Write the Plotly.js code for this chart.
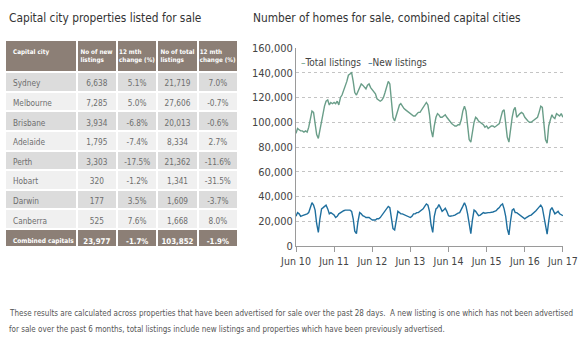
<!DOCTYPE html>
<html><head><meta charset="utf-8">
<script src="https://cdn.plot.ly/plotly-3.0.1.min.js"></script>
<style>html,body{margin:0;padding:0;background:#fff;}#chart{width:580px;height:352px;}</style>
</head><body><div id="chart"></div>
<script>
// ---------- Table data ----------
const tableTitle = 'Capital city properties listed for sale';
const tableHeaders = ['Capital city', 'No of new<br>listings', '12 mth<br>change (%)', 'No of total<br>listings', '12 mth<br>change (%)'];
const cities = ['Sydney', 'Melbourne', 'Brisbane', 'Adelaide', 'Perth', 'Hobart', 'Darwin', 'Canberra', 'Combined capitals'];
const newListings = ['6,638', '7,285', '3,934', '1,795', '3,303', '320', '177', '525', '23,977'];
const newChange = ['5.1%', '5.0%', '-6.8%', '-7.4%', '-17.5%', '-1.2%', '3.5%', '7.6%', '-1.7%'];
const totalListingsTbl = ['21,719', '27,606', '20,013', '8,334', '21,362', '1,341', '1,609', '1,668', '103,852'];
const totalChange = ['7.0%', '-0.7%', '-0.6%', '2.7%', '-11.6%', '-31.5%', '-3.7%', '8.0%', '-1.9%'];

// ---------- Chart data (half-monthly, thousands, Jun 2010 - Jun 2017) ----------
const chartTitle = 'Number of homes for sale, combined capital cities';
const seriesNames = ['Total listings', 'New listings'];
const startYear = 2010, startMonth = 6; // first observation: 1 Jun 2010
const totalK = [
  91,95,94,93,93,92,93,92,96,103,109,108,100,90,87,94,101,108,113,117,118,114,116,115,
  116,115,117,114,120,122,126,128,133,138,139,140,133,124,122,125,128,131,130,128,127,130,131,128,
  126,124,123,119,118,117,118,120,124,128,133,131,115,104,101,106,110,114,115,113,111,110,109,108,
  107,106,105,105,107,108,108,110,112,115,116,114,106,94,88,97,104,107,106,104,104,105,106,104,
  102,100,99,98,97,97,98,98,102,109,113,109,96,86,84,94,100,104,103,101,100,99,98,96,
  97,95,96,97,97,96,97,98,99,104,109,110,100,88,84,96,104,110,112,104,106,107,108,107,
  104,102,101,100,100,101,102,103,104,108,113,112,98,86,83,97,102,106,104,103,107,106,105,107,
  104
];
const newK = [
  24,27,26,24,24.5,25,25,26,27,31,35,33,29,18,11,22,30,31,32,33,30,26,27,26,
  25,23,24,26,27,28,28.5,29,29,29,29,28,22,12,10,20,27,26,24.5,24,23,23,23,22,
  21,21,21,22,22,23,25,26,28,30,32,31,24,14,13,22,28,27,26,26,25.5,25,24,24,
  23,24,26,26,27,27,28,29,30,32,34,33,28,17,11,24,30,31,33.5,31,28,29,30.5,28,
  24.5,24,24,24.5,25,26,26.5,27,29,32,35,32,26,16,10,21,29,28,26,24.5,25,26,27,26.5,
  27,27,27,27,27.5,28,28.5,30,31,33,34,30,24,14,9,20,29,30,27,27,26,25,24,23,
  22,23,24,24.5,25,26,27,28.5,30,32,33,31,24,14,9.5,20,29,31,28,26,27,28,26,25,
  24.5
];
const xTickVals = ['2010-06-01','2011-06-01','2012-06-01','2013-06-01','2014-06-01','2015-06-01','2016-06-01','2017-06-01'];
const xTickText = ['Jun 10','Jun 11','Jun 12','Jun 13','Jun 14','Jun 15','Jun 16','Jun 17'];
const footnote = [
  'These results are calculated across properties that have been advertised for sale over the past 28 days.  A new listing is one which has not been advertised',
  'for sale over the past 6 months, total listings include new listings and properties which have been previously advertised.'
];

// ---------- Build ----------
const FONT = '"Liberation Sans Narrow", "DejaVu Sans Condensed", "Arial Narrow", "Liberation Sans", sans-serif';
const lineColors = ['#6a9e89', '#1f6f9e'];
const headerBrown = '#8c7f76';

const dates = [];
for (let i = 0; i < totalK.length; i++) {
  const mIdx = startMonth - 1 + Math.floor(i / 2);
  const y = startYear + Math.floor(mIdx / 12);
  const m = (mIdx % 12) + 1;
  dates.push(y + '-' + String(m).padStart(2, '0') + '-' + (i % 2 === 0 ? '01' : '16'));
}

const nRows = cities.length;
const isLast = i => i === nRows - 1;
const rowFill = cities.map((c, i) => isLast(i) ? headerBrown : (i % 2 === 0 ? '#dcdcdc' : '#f0f0f0'));
const rowFont = cities.map((c, i) => isLast(i) ? '#ffffff' : '#6e6e6e');
const firstColSize = cities.map((c, i) => isLast(i) ? 6.5 : 8.2);
const otherColSize = cities.map((c, i) => isLast(i) ? 7.8 : 8.2);
const noWrap = s => s.replace(/ /g, '\u00a0');
const boldLast = arr => arr.map((v, i) => isLast(i) ? '<b>' + noWrap(v) + '</b>' : noWrap(v));

const W = 580, H = 352;
const px = x => x / W, py = y => 1 - y / H;

const table = {
  type: 'table',
  domain: {x: [px(5), px(239)], y: [py(246), py(40)]},
  columnwidth: [72, 40.5, 40.5, 40.5, 40.5],
  header: {
    values: tableHeaders.map(h => '<b>' + noWrap(h) + '</b>'),
    align: ['left', 'center', 'center', 'center', 'center'],
    fill: {color: headerBrown},
    line: {color: '#ffffff', width: 2},
    font: {family: FONT, size: 6.3, color: '#ffffff'},
    height: 27
  },
  cells: {
    values: [boldLast(cities), boldLast(newListings), boldLast(newChange), boldLast(totalListingsTbl), boldLast(totalChange)],
    align: ['left', 'center', 'center', 'center', 'center'],
    fill: {color: [rowFill]},
    line: {color: '#ffffff', width: 2},
    font: {family: FONT, size: [firstColSize, otherColSize, otherColSize, otherColSize, otherColSize], color: [rowFont]},
    height: 19.6
  }
};

const tTotal = {
  type: 'scatter', mode: 'lines', name: seriesNames[0],
  x: dates, y: totalK.map(v => v * 1000),
  line: {color: lineColors[0], width: 1.4}, showlegend: false
};
const tNew = {
  type: 'scatter', mode: 'lines', name: seriesNames[1],
  x: dates, y: newK.map(v => v * 1000),
  line: {color: lineColors[1], width: 1.4}, showlegend: false
};

const layout = {
  width: W, height: H,
  margin: {l: 0, r: 0, t: 0, b: 0},
  paper_bgcolor: '#ffffff', plot_bgcolor: '#ffffff',
  font: {family: FONT, color: '#444'},
  title: {
    text: chartTitle, x: px(253), xanchor: 'left', xref: 'paper',
    y: py(18), yanchor: 'middle', yref: 'paper',
    font: {family: FONT, size: 11.8, color: '#333'}
  },
  xaxis: {
    domain: [px(296), px(563)], type: 'date',
    range: ['2010-06-01', '2017-06-02'],
    tickmode: 'array', tickvals: xTickVals, ticktext: xTickText,
    showgrid: false, zeroline: false,
    showline: true, linecolor: '#9a9a9a', linewidth: 1,
    ticks: 'outside', ticklen: 5, tickcolor: '#9a9a9a',
    tickfont: {family: FONT, size: 10.5, color: '#444'}
  },
  yaxis: {
    domain: [py(246), py(48)], range: [0, 160000],
    tickmode: 'linear', tick0: 0, dtick: 20000, tickformat: ',d',
    showgrid: true, gridcolor: '#c4c4c4', griddash: 'dot', gridwidth: 1,
    zeroline: false, showline: true, linecolor: '#9a9a9a', linewidth: 1,
    ticks: '', tickfont: {family: FONT, size: 11, color: '#444'}
  },
  annotations: [
    {text: tableTitle, xref: 'paper', yref: 'paper', x: px(7), y: py(18), xanchor: 'left', yanchor: 'middle',
     showarrow: false, font: {family: FONT, size: 11.8, color: '#333'}},
    {text: '<span style="color:' + lineColors[0] + '">–</span>' + seriesNames[0], xref: 'paper', yref: 'paper',
     x: px(299), y: py(62), xanchor: 'left', yanchor: 'middle', showarrow: false,
     font: {family: FONT, size: 10, color: '#444'}},
    {text: '<span style="color:' + lineColors[1] + '">–</span>' + seriesNames[1], xref: 'paper', yref: 'paper',
     x: px(366), y: py(62), xanchor: 'left', yanchor: 'middle', showarrow: false,
     font: {family: FONT, size: 10, color: '#444'}},
    {text: footnote[0], xref: 'paper', yref: 'paper', x: px(7), y: py(313), xanchor: 'left', yanchor: 'middle',
     showarrow: false, font: {family: FONT, size: 8.0, color: '#555'}},
    {text: footnote[1], xref: 'paper', yref: 'paper', x: px(7), y: py(329), xanchor: 'left', yanchor: 'middle',
     showarrow: false, font: {family: FONT, size: 8.0, color: '#555'}}
  ]
};

Plotly.newPlot('chart', [table, tTotal, tNew], layout, {staticPlot: true, displayModeBar: false});
</script>
</body></html>
